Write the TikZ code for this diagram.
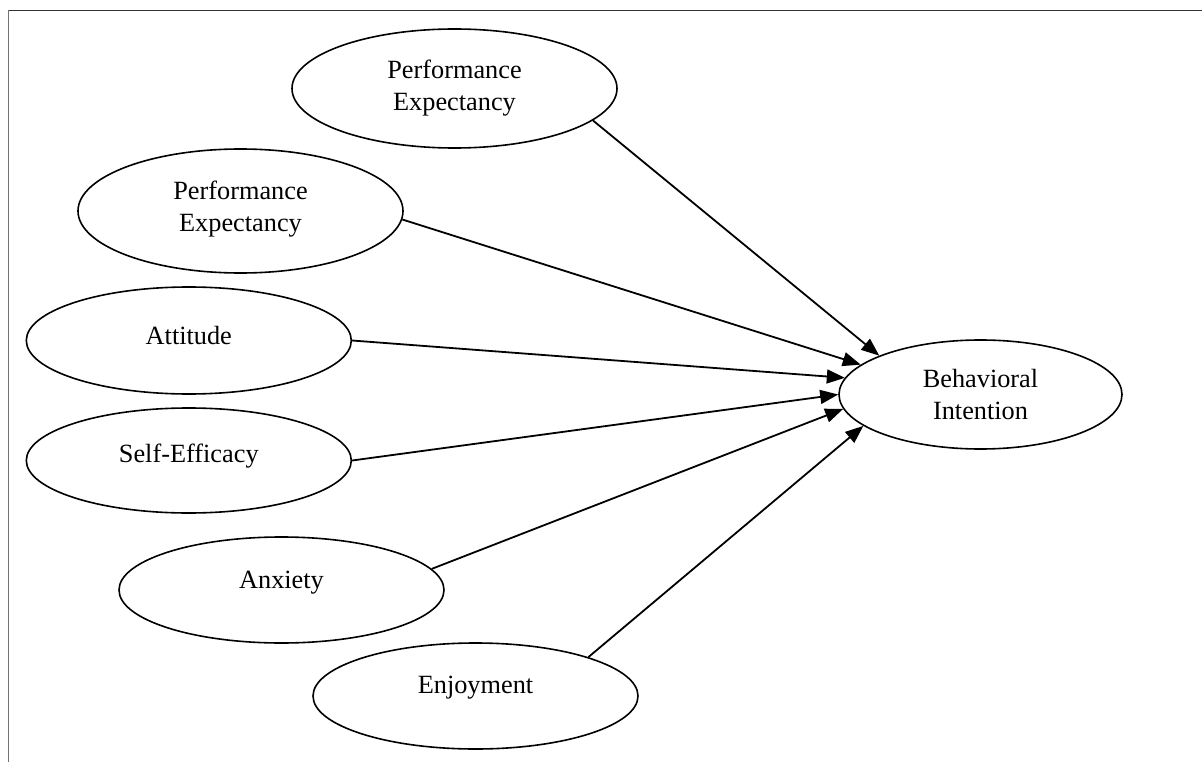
\documentclass[tikz,border=0pt]{standalone}
\usepackage{fontspec}
\setmainfont{Liberation Serif}
\usetikzlibrary{shapes.geometric,arrows.meta}
\begin{document}
\begin{tikzpicture}[x=1pt,y=-1pt,
  oval/.style={draw=black,line width=1.6pt,ellipse,inner sep=0pt,minimum width=325pt},
  txt/.style={font=\fontsize{26.3}{32}\selectfont,align=center},
  link/.style={draw=black,line width=1.8pt,-{Triangle[length=18pt,width=14pt]}}]
\useasboundingbox (0,0) rectangle (1202,762);
\fill[white] (0,0) rectangle (1202,762);
\coordinate (fb) at (8.5,762);
\coordinate (fc) at (8.5,10.5);
\coordinate (fr) at (1202,10.5);
\draw[line width=1.3pt,black!55] (fb) -- (fc);
\draw[line width=1.3pt,black!80] (fc) -- (fr);

\node[oval,minimum height=119pt,label={[txt]center:Performance\\Expectancy}] (pe1) at (454.5,88.5) {};
\node[oval,minimum height=124pt,label={[txt,yshift=2pt]center:Performance\\Expectancy}] (pe2) at (240.5,211) {};
\node[oval,minimum height=107pt,label={[txt,yshift=5pt]center:Attitude}] (att) at (188.8,340.5) {};
\node[oval,minimum height=105pt,label={[txt,yshift=4pt]center:Self-Efficacy}] (se) at (188.8,460.5) {};
\node[oval,minimum height=106pt,label={[txt,yshift=7pt]center:Anxiety}] (anx) at (281.5,590) {};
\node[oval,minimum height=106pt,label={[txt,yshift=8pt]center:Enjoyment}] (enj) at (475.5,696) {};
\node[oval,minimum width=283pt,minimum height=109pt,label={[txt]center:Behavioral\\Intention}] (bi) at (980.5,394.5) {};

\draw[link] (pe1.-13.7) -- (bi.159);
\draw[link] (pe2.-3) -- (bi.166);
\draw[link] (att.east) -- (bi.173);
\draw[link] (se.east) -- (bi.180);
\draw[link] (anx.8.5) -- (bi.186.5);
\draw[link] (enj.19.2) -- (bi.195);
\end{tikzpicture}
\end{document}
